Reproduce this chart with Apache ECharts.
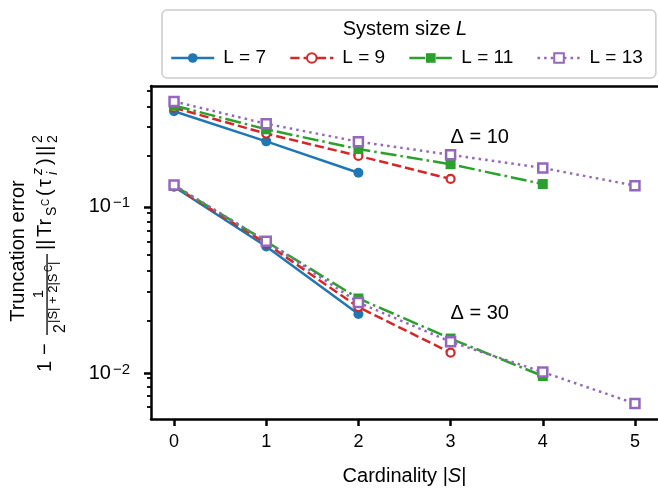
<!DOCTYPE html>
<html><head><meta charset="utf-8">
<script src="https://cdn.jsdelivr.net/npm/echarts@6/dist/echarts.min.js"></script>
<style>html,body{margin:0;padding:0;background:#fff}#c{width:658px;height:491px}</style>
</head><body><div id="c"></div>
<script>
// ---- data ----
const cardinality = [0, 1, 2, 3, 4, 5];
const seriesNames = ['L = 7', 'L = 9', 'L = 11', 'L = 13'];
// Delta = 10
const delta10_L7  = [0.373, 0.245, 0.158];
const delta10_L9  = [0.392, 0.273, 0.200, 0.145];
const delta10_L11 = [0.404, 0.290, 0.220, 0.178, 0.135];
const delta10_L13 = [0.428, 0.313, 0.244, 0.203, 0.169, 0.132];
// Delta = 30
const delta30_L7  = [0.130, 0.0564, 0.0220];
const delta30_L9  = [0.131, 0.0588, 0.0242, 0.0128];
const delta30_L11 = [0.132, 0.0605, 0.0273, 0.0156, 0.00924];
const delta30_L13 = [0.133, 0.0607, 0.0258, 0.0149, 0.00977, 0.00629];
const xTicks = [0, 1, 2, 3, 4, 5];
const yMajorTicks = [0.01, 0.1];
const yMinorTicks = [0.006, 0.007, 0.008, 0.009, 0.02, 0.03, 0.04, 0.05, 0.06, 0.07, 0.08, 0.09, 0.2, 0.3, 0.4, 0.5];
const annotationTexts = ['Δ = 10', 'Δ = 30'];
const annotationX = [3, 3];
const annotationY = [0.26, 0.022];

// ---- styling ----
const FONT = '"Liberation Sans", Arial, Helvetica, sans-serif';
const styles = [
  {color: '#1f77b4', type: 'solid', symbol: 'circle', size: 10, fill: '#1f77b4', bw: 0},
  {color: '#d62728', type: [9.25, 4], symbol: 'circle', size: 8, fill: '#ffffff', bw: 2.2},
  {color: '#2ca02c', type: [16, 4, 2.5, 4], symbol: 'rect', size: 10, fill: '#2ca02c', bw: 0},
  {color: '#9467bd', type: [2.5, 4.1], symbol: 'rect', size: 9, fill: '#ffffff', bw: 2.5}
];
const groups = [
  [delta10_L7, delta30_L7],
  [delta10_L9, delta30_L9],
  [delta10_L11, delta30_L11],
  [delta10_L13, delta30_L13]
];
const log10 = v => Math.log10(v);
function pts(vals) { return vals.map((v, i) => [cardinality[i], log10(v)]); }

const series = [];
groups.forEach((g, k) => {
  const s = styles[k];
  g.forEach(vals => {
    series.push({
      type: 'line', name: seriesNames[k], data: pts(vals),
      xAxisIndex: 0, yAxisIndex: 0,
      symbol: s.symbol, symbolSize: s.size, showAllSymbol: true,
      lineStyle: {color: s.color, width: 2.5, type: s.type, cap: 'butt'},
      itemStyle: {color: s.fill, borderColor: s.color, borderWidth: s.bw},
      emphasis: {disabled: true}, z: 2 + k, animation: false
    });
  });
});

function yLabel(v) {
  const e = Math.round(v);
  return '{b|10}{s|' + (e < 0 ? '−' : '') + Math.abs(e) + '}';
}

const chart = echarts.init(document.getElementById('c'), null, {renderer: 'canvas'});
const xMin = -0.25, xMax = 5.25, yMin = -2.295, yMax = -0.275;
const G = {left: 151, top: 86, width: 508, height: 336.5};
// second grid spans exactly the decade between the major ticks, on the same scale
const majLo = log10(yMajorTicks[0]), majHi = log10(yMajorTicks[yMajorTicks.length - 1]);
const pxPerUnit = G.height / (yMax - yMin);
const G2 = {left: G.left, width: G.width, top: G.top + (yMax - majHi) * pxPerUnit, height: (majHi - majLo) * pxPerUnit};
const option = {
  animation: false,
  backgroundColor: '#ffffff',
  grid: [Object.assign({containLabel: false}, G), Object.assign({containLabel: false}, G2)],
  legend: {
    data: seriesNames, left: 162, top: 10, orient: 'horizontal',
    padding: [38, 13, 10, 8], itemGap: 23, itemWidth: 43, itemHeight: 12,
    borderColor: '#cccccc', borderWidth: 1.5, borderRadius: 5, backgroundColor: '#ffffff',
    selectedMode: false,
    lineStyle: {width: 2.5},
    textStyle: {fontSize: 19, fontFamily: FONT, color: '#000', padding: [0, 0, 0, 4], lineHeight: 20}
  },
  xAxis: [{
    gridIndex: 0, type: 'value', min: xMin, max: xMax, position: 'bottom',
    name: '{a|Cardinality |}{i|S}{a||}', nameLocation: 'middle', nameGap: 47,
    nameTextStyle: {rich: {a: {fontSize: 20, fontFamily: FONT, color: '#000'}, i: {fontSize: 20, fontFamily: FONT, fontStyle: 'italic', color: '#000'}}},
    axisLine: {show: true, onZero: false, lineStyle: {color: '#000', width: 2.5}},
    axisTick: {show: true, length: 7, lineStyle: {color: '#000', width: 2.5}, customValues: xTicks},
    axisLabel: {show: true, customValues: xTicks, fontSize: 18, fontFamily: FONT, color: '#000', margin: 14},
    splitLine: {show: false}
  }, {
    gridIndex: 0, type: 'value', min: xMin, max: xMax, position: 'top',
    axisLine: {show: true, onZero: false, lineStyle: {color: '#000', width: 2.5}},
    axisTick: {show: false}, axisLabel: {show: false}, splitLine: {show: false}
  }, {
    gridIndex: 1, type: 'value', min: xMin, max: xMax, show: false
  }],
  yAxis: [{
    gridIndex: 0, type: 'value', min: yMin, max: yMax, position: 'left',
    axisLine: {show: true, onZero: false, lineStyle: {color: '#000', width: 2.5}},
    axisTick: {show: true, length: 4, lineStyle: {color: '#000', width: 1.8}, customValues: yMinorTicks.map(log10)},
    axisLabel: {show: false},
    splitLine: {show: false}
  }, {
    gridIndex: 1, type: 'value', min: majLo, max: majHi, interval: 1, position: 'left',
    axisLine: {show: false, onZero: false},
    axisTick: {show: true, length: 7, lineStyle: {color: '#000', width: 2.5}},
    axisLabel: {
      show: true, showMinLabel: true, showMaxLabel: true, margin: 21, formatter: yLabel,
      rich: {
        b: {fontSize: 20, fontFamily: FONT, color: '#000', lineHeight: 22},
        s: {fontSize: 15, fontFamily: FONT, color: '#000', verticalAlign: 'top', lineHeight: 22, padding: [0, 0, 0, 2]}
      }
    },
    splitLine: {show: false}
  }],
  series: series
};
chart.setOption(option);

// ---- text elements ----
function t(u, v, size, text, italic, align) {
  return {type: 'text', x: u, y: v, z: 100,
    style: {text: text, font: (italic ? 'italic ' : '') + size + 'px ' + FONT, fill: '#000',
      align: align || 'left', verticalAlign: 'middle'}};
}
const ylabelChildren = [
  t(0, 0, 20, '1'),
  t(17, 0, 20, '−'),
  t(78, -6, 15, '1', false, 'center'),
  {type: 'rect', x: 37, y: 1.4, z: 100, shape: {width: 81, height: 1.3}, style: {fill: '#000'}},
  t(39, 16, 16, '2'),
  t(49, 8.5, 13, '|S| + 2|S'),
  t(100, 4, 10, 'C'),
  t(107, 8.5, 13, '|'),
  t(122, 0, 20, '||'),
  t(135, 0, 20, 'Tr'),
  t(156, 7, 14, 'S'),
  t(166, 1, 10, 'C'),
  t(176, 0, 20, '('),
  t(185, 0, 20, 'τ'),
  t(197, -7, 14, 'z', true),
  t(197, 8, 14, 'i', true),
  t(207, 0, 20, ')'),
  t(216, 0, 20, '||'),
  t(229, -7, 14, '2'),
  t(229, 8, 14, '2')
];
const graphics = [
  {type: 'group', x: 45, y: 372, rotation: Math.PI / 2, z: 100, children: ylabelChildren},
  {type: 'text', x: 18, y: 251, rotation: Math.PI / 2, z: 100,
    style: {text: 'Truncation error', font: '20px ' + FONT, fill: '#000', align: 'center', verticalAlign: 'middle'}},
  {type: 'text', x: 405, y: 29, z: 100,
    style: {text: 'System size {i|L}', font: '20px ' + FONT, fill: '#000', align: 'center', verticalAlign: 'middle',
      rich: {i: {fontStyle: 'italic', fontSize: 20, fontFamily: FONT}}}}
];
annotationTexts.forEach((txt, i) => {
  const p = chart.convertToPixel({seriesIndex: 0}, [annotationX[i], log10(annotationY[i])]);
  graphics.push({type: 'text', x: p[0], y: p[1], z: 100,
    style: {text: txt, font: '20px ' + FONT, fill: '#000', align: 'left', verticalAlign: 'middle'}});
});
chart.setOption({graphic: graphics});
</script>
</body></html>
